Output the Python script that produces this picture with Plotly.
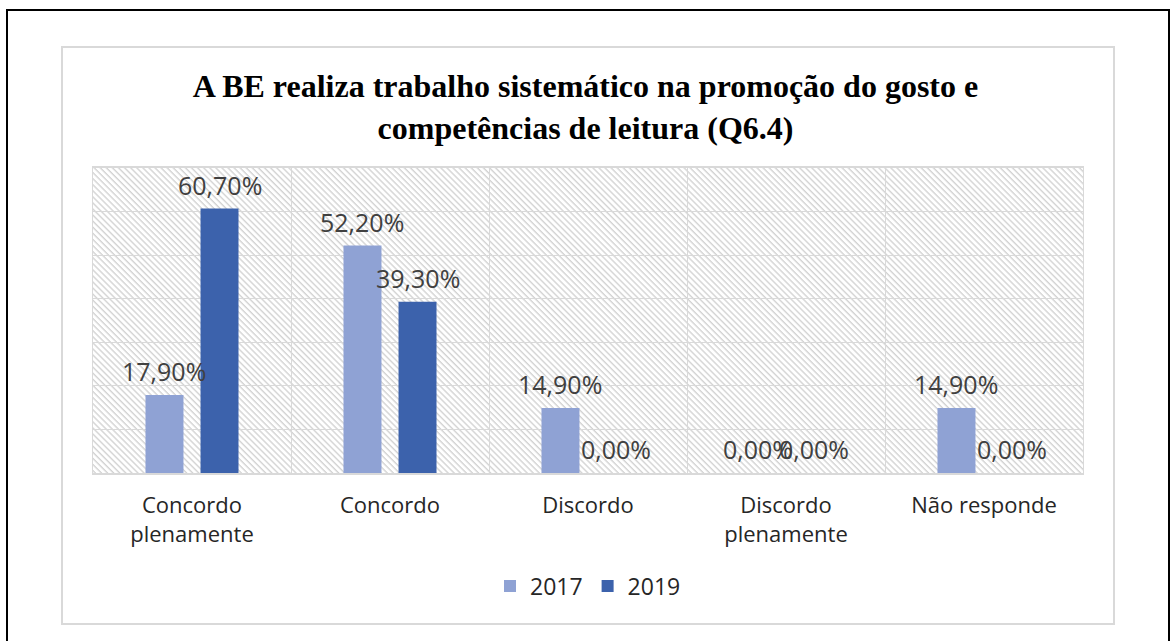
import base64
import plotly.graph_objects as go

# ---- data ----
categories = ["Concordo plenamente", "Concordo", "Discordo", "Discordo plenamente", "Não responde"]
tick_labels = ["Concordo<br>plenamente", "Concordo", "Discordo", "Discordo<br>plenamente", "Não responde"]
series_names = ["2017", "2019"]
values_2017 = [17.9, 52.2, 14.9, 0.0, 14.9]
values_2019 = [60.7, 39.3, 0.0, 0.0, 0.0]
title_text = "<b>A BE realiza trabalho sistemático na promoção do gosto e<br>competências de leitura (Q6.4)</b>"

colors = ["#8FA2D4", "#3C62AC"]

W, H = 1171, 641
ML, MR, MT, MB = 93, 88, 168, 168
PW = W - ML - MR
PH = H - MT - MB


def px(x):
    return (x - ML) / PW


def py(y):
    return (H - MB - y) / PH


def fmt(v):
    return f"{v:.2f}".replace(".", ",") + "%"


BARGAP = 0.444
BARGROUPGAP = 0.31
cat_w = PW / len(categories)
offset_px = (1 - BARGAP) * cat_w / 4

fig = go.Figure()
all_series = [values_2017, values_2019]
for name, vals, col in zip(series_names, all_series, colors):
    fig.add_trace(go.Bar(
        x=categories, y=vals, name=name,
        marker=dict(color=col, line=dict(width=0)),
        hoverinfo="skip",
    ))

annotations = []
for si, vals in enumerate(all_series):
    shift = -offset_px if si == 0 else offset_px
    for c, v in zip(categories, vals):
        annotations.append(dict(
            x=c, y=v, xref="x", yref="y", text=fmt(v), showarrow=False,
            xshift=shift, yshift=24, yanchor="middle", xanchor="center",
            font=dict(family="Open Sans", size=25, color="#404040"),
        ))

# hatch pattern background (decoration)
svg = (
    f"<svg xmlns='http://www.w3.org/2000/svg' width='{PW}' height='{PH}'>"
    "<defs><pattern id='h' width='4.3' height='4.3' patternUnits='userSpaceOnUse' "
    "patternTransform='rotate(-45)'>"
    "<line x1='1' y1='0' x2='1' y2='4.3' stroke='#cfcfcf' stroke-width='1.3'/>"
    "</pattern></defs>"
    "<rect width='100%' height='100%' fill='white'/>"
    "<rect width='100%' height='100%' fill='url(#h)'/></svg>"
)
svg_uri = "data:image/svg+xml;base64," + base64.b64encode(svg.encode()).decode()

fig.update_layout(
    width=W, height=H,
    margin=dict(l=ML, r=MR, t=MT, b=MB, pad=0),
    paper_bgcolor="white",
    plot_bgcolor="rgba(0,0,0,0)",
    barmode="group", bargap=BARGAP, bargroupgap=BARGROUPGAP,
    title=dict(
        text=title_text, x=0.5, xanchor="center",
        yref="container", y=1 - 97 / H, yanchor="middle",
        font=dict(family="Liberation Serif", size=32, color="#000000"),
    ),
    xaxis=dict(
        type="category", categoryorder="array", categoryarray=categories,
        tickvals=categories, ticktext=tick_labels,
        tickson="boundaries", ticks="", showgrid=True, gridcolor="#d9d9d9", gridwidth=1.3,
        showline=True, linecolor="#d9d9d9", linewidth=1.5, mirror=True,
        tickfont=dict(family="Open Sans", size=22, color="#262626"),
        ticklabelstandoff=12, fixedrange=True,
    ),
    yaxis=dict(
        range=[0, 70], dtick=10, showticklabels=False, ticks="",
        showgrid=True, gridcolor="#d9d9d9", gridwidth=1.3,
        showline=True, linecolor="#d9d9d9", linewidth=1.3, mirror=True,
        zeroline=False, fixedrange=True,
    ),
    legend=dict(
        orientation="h", x=0.5, xanchor="center", y=py(586), yanchor="middle",
        font=dict(family="Open Sans", size=23, color="#262626"),
        traceorder="normal",
    ),
    annotations=annotations,
    images=[dict(
        source=svg_uri, xref="paper", yref="paper", x=0, y=1, sizex=1, sizey=1,
        xanchor="left", yanchor="top", sizing="stretch", layer="below",
    )],
    shapes=[
        dict(type="rect", xref="paper", yref="paper",
             x0=px(62), x1=px(1114), y0=py(624), y1=py(47),
             line=dict(color="#d9d9d9", width=2), fillcolor="rgba(0,0,0,0)", layer="below"),
        dict(type="rect", xref="paper", yref="paper",
             x0=px(7), x1=px(1169), y0=py(660), y1=py(10),
             line=dict(color="#000000", width=2), fillcolor="rgba(0,0,0,0)", layer="above"),
    ],
)

fig.write_html(
    "out.html",
    config={"displayModeBar": False},
    post_script="document.body.style.margin='0';document.body.style.overflow='hidden';",
)
